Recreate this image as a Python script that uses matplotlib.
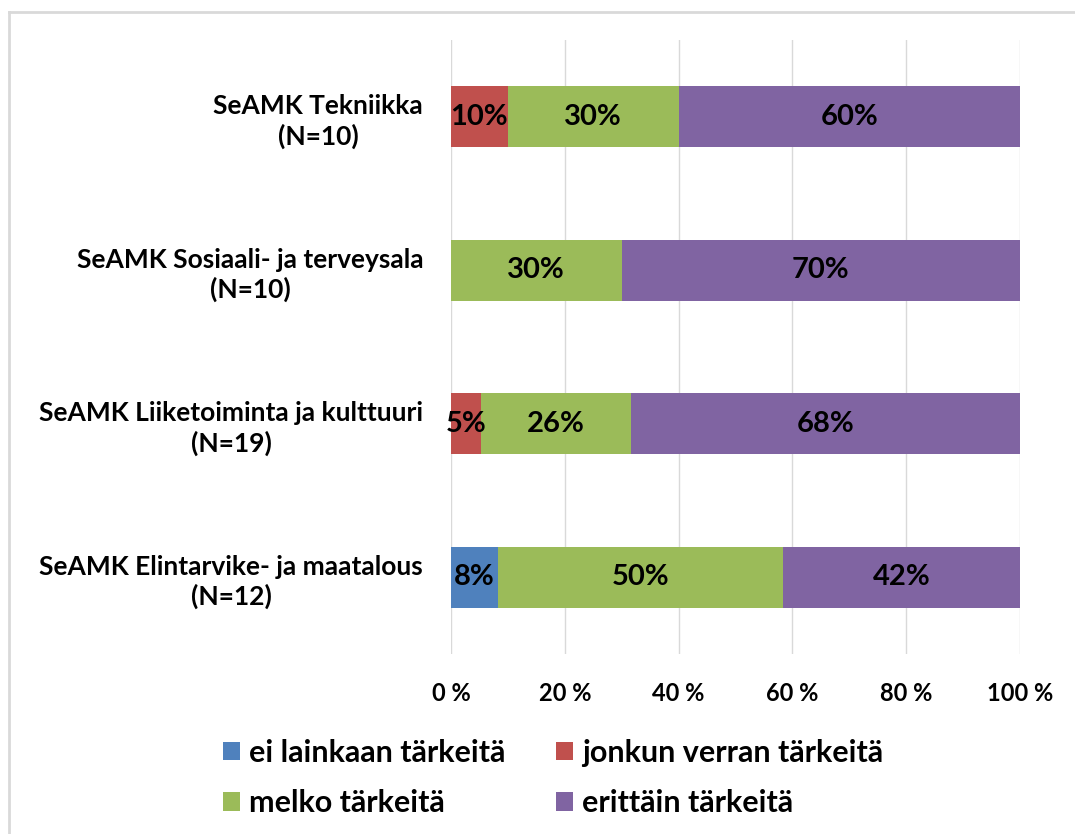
import matplotlib
matplotlib.use("Agg")
import matplotlib.pyplot as plt
from matplotlib.lines import Line2D
from matplotlib.patches import Patch

plt.rcParams['font.family'] = ['Lato', 'DejaVu Sans']

categories = ["SeAMK Tekniikka\n(N=10)",
              "SeAMK Sosiaali- ja terveysala\n(N=10)",
              "SeAMK Liiketoiminta ja kulttuuri\n(N=19)",
              "SeAMK Elintarvike- ja maatalous\n(N=12)"]
series_names = ["ei lainkaan tärkeitä", "jonkun verran tärkeitä",
                "melko tärkeitä", "erittäin tärkeitä"]
ei_lainkaan = [0, 0, 0, 8.3]
jonkun_verran = [10, 0, 5.3, 0]
melko = [30, 30, 26.3, 50]
erittain = [60, 70, 68.4, 41.7]
colors = ["#4F81BD", "#C0504D", "#9BBB59", "#8064A2"]

fig = plt.figure(figsize=(10.75, 8.34), dpi=100)
ax = fig.add_axes([451 / 1075, 1 - 654 / 834, 569 / 1075, 614 / 834])

y = list(range(len(categories)))[::-1]
left = [0] * len(categories)
for name, vals, c in zip(series_names, [ei_lainkaan, jonkun_verran, melko, erittain], colors):
    ax.barh(y, vals, left=left, height=0.4, color=c, label=name, zorder=2)
    for yi, l, v in zip(y, left, vals):
        if v > 0:
            ax.text(l + v / 2, yi, f"{round(v)}%", ha="center", va="center",
                    fontsize=21, fontweight="bold", color="black", zorder=3)
    left = [a + b for a, b in zip(left, vals)]

ax.set_xlim(0, 100)
ax.set_ylim(-0.5, 3.5)
ax.set_xticks([0, 20, 40, 60, 80, 100])
ax.set_xticklabels([f"{t} %" for t in [0, 20, 40, 60, 80, 100]])
ax.set_yticks(y)
ax.set_yticklabels(categories, ha="right", linespacing=1.25)
ax.tick_params(axis="y", length=0, pad=20, labelsize=19)
ax.tick_params(axis="x", length=0, pad=20, labelsize=17)
for lab in ax.get_yticklabels():
    lab.set_multialignment("center")
for lab in ax.get_xticklabels() + ax.get_yticklabels():
    lab.set_fontweight("bold")
ax.grid(axis="x", color="#D9D9D9", linewidth=1, zorder=0)
for s in ax.spines.values():
    s.set_visible(False)

# legend filled column by column, so reorder to read row by row
order = [0, 2, 1, 3]
handles = [Patch(facecolor=colors[i], edgecolor="none") for i in order]
labels = [series_names[i] for i in order]
fig.legend(handles, labels, ncol=2, loc="center left",
           bbox_to_anchor=(196 / 1075, 1 - 778 / 834), frameon=False,
           prop={"weight": "bold", "size": 22},
           handlelength=0.55, handleheight=0.55, handletextpad=0.3,
           columnspacing=1.65, labelspacing=0.75)

# light frame like the original chart border
fig.add_artist(Line2D([9 / 1075, 1], [1 - 12 / 834] * 2, color="#D9D9D9", lw=2))
fig.add_artist(Line2D([9 / 1075] * 2, [0, 1 - 12 / 834], color="#D9D9D9", lw=2))

fig.savefig("out.png", dpi=100)
